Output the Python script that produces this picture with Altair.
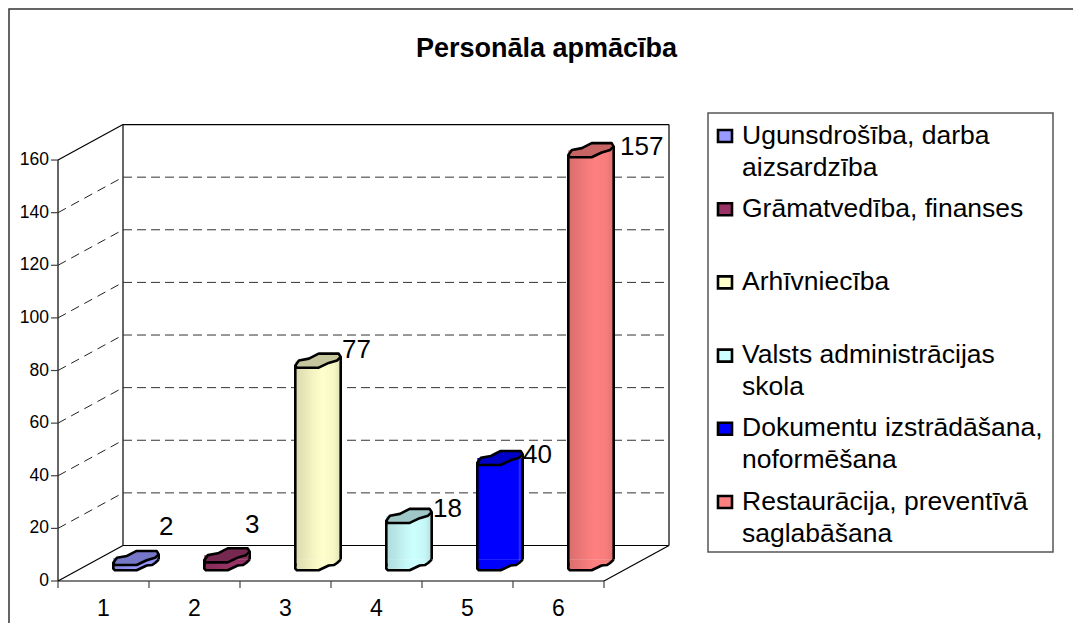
import altair as alt
import pandas as pd

# --- data ---
CATEGORIES = [1, 2, 3, 4, 5, 6]
VALUES = [2, 3, 77, 18, 40, 157]
SERIES = [
    "Ugunsdrošība, darba\naizsardzība",
    "Grāmatvedība, finanses",
    "Arhīvniecība",
    "Valsts administrācijas\nskola",
    "Dokumentu izstrādāšana,\nnoformēšana",
    "Restaurācija, preventīvā\nsaglabāšana",
]
Y_TICKS = [0, 20, 40, 60, 80, 100, 120, 140, 160]
TITLE = "Personāla apmācība"

# --- styling ---
BASE = ["#9999FF", "#993366", "#FFFFCC", "#CCFFFF", "#0000FF", "#FF8080"]
FONT = "Liberation Sans"
W, H = 1065, 615
PX_X, PX_Y = 91.0, 2.631        # pixels per data unit
X0, Y0 = 50.0, 573.0            # where data (0,0) sits inside the view
DEPTH_X, DEPTH_Y = 65 / PX_X, 35.5 / PX_Y
R = 22.7                        # half width of a cylinder in px
LABEL_OFFSET = [(23, -31), (18, -30), (24, -11), (24, -7), (23, -3), (29, -3)]
STROKE = 2.6
TICK = 7

TOP_SHAPE = ("M-1,0.21L-0.84,-0.01L-0.4,-0.09L0.03,-0.31L0.91,-0.31L1,-0.16"
             "L0.84,-0.01L0.47,0.1L0.03,0.31L-0.93,0.31Z")
SKIRT_OUTLINE = ("M-1,0L-1,0.24L-0.93,0.31L0.03,0.31L0.47,0.1L0.7,0.08"
                 "L0.84,-0.01L1,-0.16")
SKIRT_FILL = SKIRT_OUTLINE + "L-1,-0.16Z"
SQUARE_SHAPE = "M-1,-0.857L1,-0.857L1,0.857L-1,0.857Z"
SYMBOL_SIZE = (2 * R) ** 2


def shade(hex_color, f):
    r, g, b = (int(hex_color[i:i + 2], 16) for i in (1, 3, 5))
    return "#%02x%02x%02x" % (round(r * f), round(g * f), round(b * f))


def body_fill(c):
    if c == "#0000FF":
        stops = [(0, c), (0.9, c), (0.93, "#2a2aff"), (1, "#1111ee")]
    else:
        stops = [(0, shade(c, .86)), (.2, shade(c, .90)), (.4, shade(c, .96)),
                 (.6, c), (.85, shade(c, .97)), (1, shade(c, .88))]
    return {"gradient": "linear", "x1": 0, "x2": 1, "y1": 0, "y2": 0,
            "stops": [{"offset": o, "color": k} for o, k in stops]}


xscale = alt.Scale(domain=[-X0 / PX_X, (W - X0) / PX_X], range=[0, W], nice=False, zero=False)
yscale = alt.Scale(domain=[(Y0 - H) / PX_Y, Y0 / PX_Y], range=[H, 0], nice=False, zero=False)


def X(f):
    return alt.X(f, type="quantitative", scale=xscale, axis=None)


def Y(f):
    return alt.Y(f, type="quantitative", scale=yscale, axis=None)


def segs(rows):
    return pd.DataFrame(rows, columns=["x", "y", "x2", "y2"])


def rule(rows, **style):
    return alt.Chart(segs(rows)).mark_rule(**style).encode(
        x=X("x"), y=Y("y"), x2=alt.X2("x2"), y2=alt.Y2("y2"))


layers = []
xmax = CATEGORIES[-1]
inner = [t for t in Y_TICKS if 0 < t < Y_TICKS[-1]]
dxu, dyu = 1 / PX_X, 1 / PX_Y

# outer frame (open on the right and at the bottom, where the picture is cut)
layers.append(alt.Chart(pd.DataFrame({"a": [0]})).mark_rect(fillOpacity=0, stroke="#333333", strokeWidth=1.5).encode(
    x=alt.value(1), x2=alt.value(1100), y=alt.value(1), y2=alt.value(660)))

# floor and walls
top = Y_TICKS[-1]
layers.append(rule([
    (0, 0, DEPTH_X, DEPTH_Y),
    (xmax, 0, xmax + DEPTH_X, DEPTH_Y),
    (DEPTH_X, DEPTH_Y, xmax + DEPTH_X, DEPTH_Y),
    (0, 0, xmax, 0),
    (0, 0, 0, top),
    (0, top, DEPTH_X, top + DEPTH_Y),
    (DEPTH_X, top + DEPTH_Y, xmax + DEPTH_X, top + DEPTH_Y),
    (DEPTH_X, DEPTH_Y, DEPTH_X, top + DEPTH_Y),
    (xmax + DEPTH_X, DEPTH_Y, xmax + DEPTH_X, top + DEPTH_Y),
], stroke="black", strokeWidth=1.2))

# ticks
layers.append(rule(
    [(-TICK * dxu, t, 0, t) for t in Y_TICKS] + [(c, 0, c, -TICK * dyu) for c in range(0, xmax + 1)],
    stroke="#444444", strokeWidth=1.2))

# value labels on the left
layers.append(alt.Chart(pd.DataFrame({"t": Y_TICKS, "x": [0] * len(Y_TICKS)})).mark_text(
    font=FONT, fontSize=17.5, color="black", align="right", baseline="middle", dx=-9).encode(
    x=X("x"), y=Y("t"), text=alt.Text("t:Q")))

# dashed gridlines on the side and back walls
layers.append(rule(
    [(0, t, DEPTH_X, t + DEPTH_Y) for t in inner], stroke="#222222", strokeWidth=1, strokeDash=[9, 6]))
layers.append(rule(
    [(DEPTH_X, t + DEPTH_Y, xmax + DEPTH_X, t + DEPTH_Y) for t in inner],
    stroke="#333333", strokeWidth=1, strokeDash=[9, 5]))

# category labels under the floor
layers.append(alt.Chart(pd.DataFrame({"c": CATEGORIES})).transform_calculate(x="datum.c - 0.5", y="0").mark_text(
    font=FONT, fontSize=23, color="black", baseline="middle", dy=28).encode(
    x=X("x"), y=Y("y"), text=alt.Text("c:N")))

# cylinders
for i, (cat, val) in enumerate(zip(CATEGORIES, VALUES)):
    color = BASE[i]
    fill = body_fill(color)
    cx = cat - 0.5 + DEPTH_X / 2
    base = DEPTH_Y / 2
    topv = base + val
    row = pd.DataFrame({"x": [cx], "y": [base], "top": [topv], "v": [val]})
    ch = alt.Chart(row)
    layers.append(ch.mark_point(shape=SKIRT_FILL, size=SYMBOL_SIZE, filled=True, fill=fill, strokeWidth=0,
                                opacity=1).encode(x=X("x"), y=Y("y")))
    layers.append(alt.Chart(pd.DataFrame({"x": [cx - R * dxu], "x2": [cx + R * dxu],
                                          "y": [base + 3.6 * dyu], "y2": [topv]})).mark_rect(
        fill=fill).encode(x=X("x"), x2=alt.X2("x2"), y=Y("y"), y2=alt.Y2("y2")))
    layers.append(ch.mark_point(shape=SKIRT_OUTLINE, size=SYMBOL_SIZE, filled=False, stroke="black",
                                strokeWidth=STROKE, opacity=1, strokeJoin="round").encode(x=X("x"), y=Y("y")))
    layers.append(rule([
        (cx - R * dxu, base - 3 * dyu, cx - R * dxu, topv - 4.7 * dyu),
        (cx + R * dxu, base + 3.7 * dyu, cx + R * dxu, topv + 3.7 * dyu),
    ], stroke="black", strokeWidth=STROKE))
    layers.append(ch.mark_point(shape=TOP_SHAPE, size=SYMBOL_SIZE, filled=True, fill=shade(color, .78), stroke="black",
                                strokeWidth=STROKE, opacity=1, strokeJoin="round").encode(x=X("x"), y=Y("top")))
    ox, oy = LABEL_OFFSET[i]
    layers.append(ch.mark_text(font=FONT, fontSize=26, color="black", align="left", baseline="middle",
                               dx=ox, dy=oy).encode(x=X("x"), y=Y("top"), text=alt.Text("v:Q")))

# legend
layers.append(alt.Chart(pd.DataFrame({"a": [0]})).mark_rect(fill="white", stroke="#555555", strokeWidth=1.5).encode(
    x=alt.value(700), x2=alt.value(1045), y=alt.value(105), y2=alt.value(544)))
for i, name in enumerate(SERIES):
    step = 73.2
    row = pd.DataFrame({"name": [name]})
    layers.append(alt.Chart(row).mark_point(shape=SQUARE_SHAPE, size=196, filled=True, fill=BASE[i], stroke="black",
                                            strokeWidth=STROKE, opacity=1).encode(
        x=alt.value(717), y=alt.value(128 + step * i)))
    layers.append(alt.Chart(row).mark_text(font=FONT, fontSize=26.5, color="black", align="left",
                                           baseline="alphabetic", lineBreak="\n", lineHeight=32).encode(
        x=alt.value(734), y=alt.value(135.5 + step * i), text=alt.Text("name:N")))

chart = alt.layer(*layers).properties(
    width=W, height=H, padding=0, autosize=alt.AutoSizeParams(type="none"),
    title=alt.TitleParams(TITLE, font=FONT, fontSize=27, fontWeight="bold", color="black",
                          anchor="start", frame="group", dx=408, offset=-68, baseline="middle"),
).configure_view(stroke=None)

chart.save("out.html", embed_options={"renderer": "svg", "actions": False})
